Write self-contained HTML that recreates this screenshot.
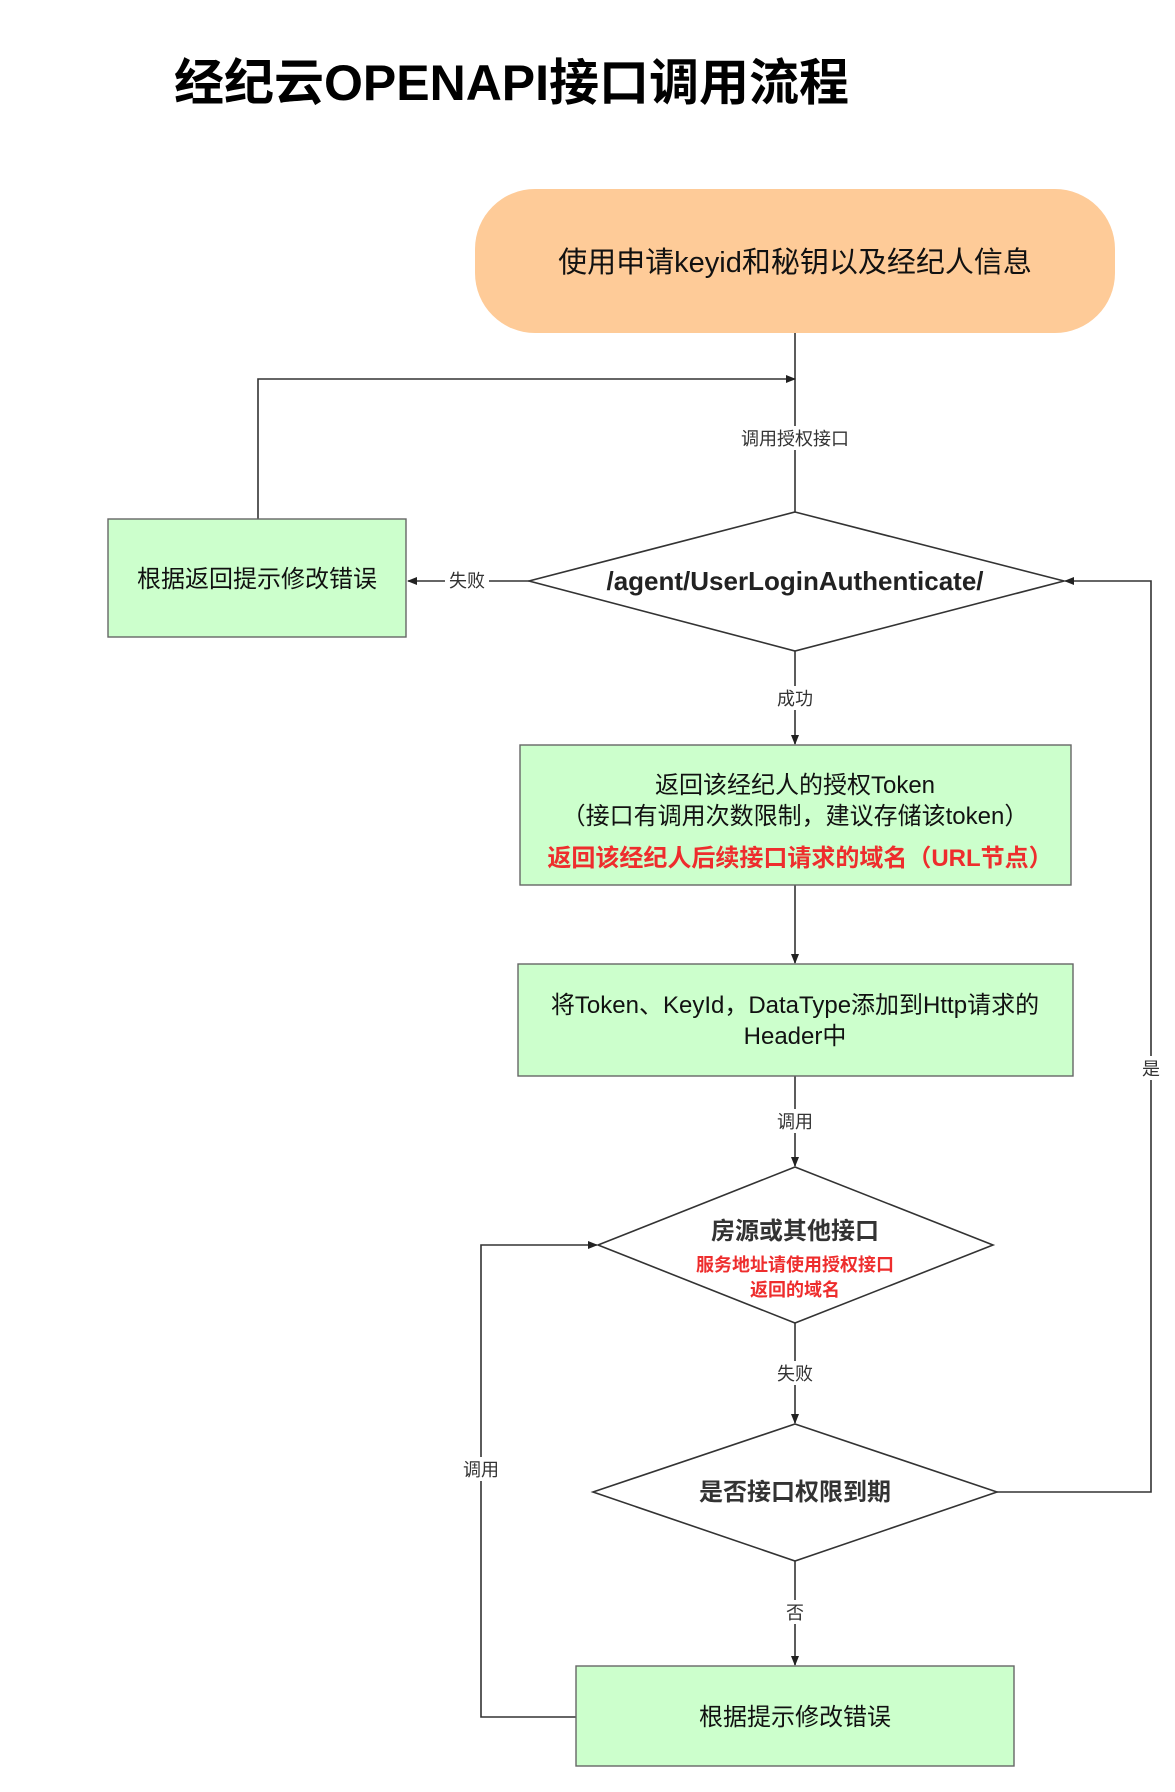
<!DOCTYPE html>
<html><head><meta charset="utf-8"><style>
html,body{margin:0;padding:0;background:#fff;}
svg text{font-family:"Liberation Sans","Noto Sans CJK SC",sans-serif;}
</style></head><body>
<svg width="1175" height="1787" viewBox="0 0 1175 1787" xmlns="http://www.w3.org/2000/svg">
<defs><marker id="a" markerWidth="10" markerHeight="10" refX="9" refY="5" orient="auto" markerUnits="userSpaceOnUse"><path d="M0,1 L10,5 L0,9 Z" fill="#222"/></marker></defs>
<text x="174" y="100" font-size="50" font-weight="bold" fill="#000">经纪云OPENAPI接口调用流程</text>
<rect x="475" y="189" width="640" height="144" rx="60" ry="60" fill="#fecb98"/>
<text x="795" y="272" font-size="29" text-anchor="middle" fill="#111">使用申请keyid和秘钥以及经纪人信息</text>
<g stroke="#333" stroke-width="1.6" fill="none">
<line x1="795" y1="333" x2="795" y2="512"/>
<polyline points="258,519 258,379 795,379" marker-end="url(#a)"/>
<line x1="529" y1="581" x2="408" y2="581" marker-end="url(#a)"/>
<line x1="795" y1="651" x2="795" y2="744" marker-end="url(#a)"/>
<line x1="795" y1="885" x2="795" y2="963" marker-end="url(#a)"/>
<line x1="795" y1="1076" x2="795" y2="1166" marker-end="url(#a)"/>
<line x1="795" y1="1323" x2="795" y2="1423" marker-end="url(#a)"/>
<line x1="795" y1="1561" x2="795" y2="1665" marker-end="url(#a)"/>
<polyline points="576,1717 481,1717 481,1245 597,1245" marker-end="url(#a)"/>
<polyline points="997,1492 1151,1492 1151,581 1065,581" marker-end="url(#a)"/>
</g>
<g stroke="#333" stroke-width="1.6" fill="#fff">
<polygon points="795,512 1064,581 795,651 529,581"/>
<polygon points="795,1167 993,1245 795,1323 598,1245"/>
<polygon points="795,1424 997,1492 795,1561 593,1492"/>
</g>
<g fill="#ccffcc" stroke="#666" stroke-width="1.4">
<rect x="108" y="519" width="298" height="118"/>
<rect x="520" y="745" width="551" height="140"/>
<rect x="518" y="964" width="555" height="112"/>
<rect x="576" y="1666" width="438" height="100"/>
</g>
<g font-size="18" text-anchor="middle" fill="#333">
<rect x="730" y="426" width="130" height="24" fill="#fff"/>
<text x="795" y="445">调用授权接口</text>
<rect x="445" y="570" width="44" height="22" fill="#fff"/>
<text x="467" y="587">失败</text>
<rect x="772" y="686" width="46" height="24" fill="#fff"/>
<text x="795" y="705">成功</text>
<rect x="772" y="1109" width="46" height="24" fill="#fff"/>
<text x="795" y="1128">调用</text>
<rect x="772" y="1361" width="46" height="24" fill="#fff"/>
<text x="795" y="1380">失败</text>
<rect x="783" y="1600" width="24" height="24" fill="#fff"/>
<text x="795" y="1619">否</text>
<rect x="458" y="1457" width="46" height="24" fill="#fff"/>
<text x="481" y="1476">调用</text>
<rect x="1139" y="1056" width="24" height="24" fill="#fff"/>
<text x="1151" y="1075">是</text>
</g>
<g text-anchor="middle" fill="#111">
<text x="257" y="587" font-size="24">根据返回提示修改错误</text>
<text x="795" y="590" font-size="26" font-weight="bold" fill="#222">/agent/UserLoginAuthenticate/</text>
<text x="795" y="793" font-size="24">返回该经纪人的授权Token</text>
<text x="795" y="824" font-size="24">（接口有调用次数限制，建议存储该token）</text>
<text x="800" y="866" font-size="24" font-weight="bold" fill="#ee2d2d">返回该经纪人后续接口请求的域名（URL节点）</text>
<text x="795" y="1013" font-size="24">将Token、KeyId，DataType添加到Http请求的</text>
<text x="795" y="1044" font-size="24">Header中</text>
<text x="795" y="1239" font-size="24" font-weight="bold" fill="#333">房源或其他接口</text>
<text x="795" y="1271" font-size="18" font-weight="bold" fill="#ee2d2d">服务地址请使用授权接口</text>
<text x="795" y="1296" font-size="18" font-weight="bold" fill="#ee2d2d">返回的域名</text>
<text x="795" y="1500" font-size="24" font-weight="bold" fill="#333">是否接口权限到期</text>
<text x="795" y="1725" font-size="24">根据提示修改错误</text>
</g>
</svg>
</body></html>
